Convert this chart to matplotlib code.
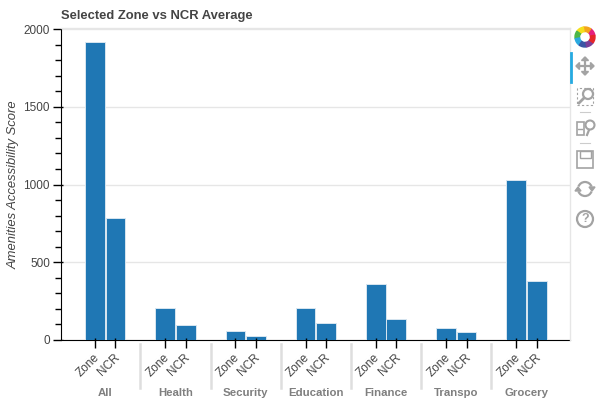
import matplotlib
matplotlib.use("Agg")
import matplotlib.pyplot as plt
import numpy as np
from matplotlib.lines import Line2D
from matplotlib.patches import Arc, Circle, Polygon, Rectangle, Wedge
from matplotlib.transforms import ScaledTranslation

plt.rcParams["font.family"] = ["Liberation Sans", "DejaVu Sans"]

categories = ["All", "Health", "Security", "Education", "Finance", "Transpo", "Grocery"]
series_names = ["Zone", "NCR"]
zone_values = [1915, 205, 55, 208, 358, 78, 1030]
ncr_values = [785, 95, 28, 110, 135, 50, 380]
y_ticks = [0, 500, 1000, 1500, 2000]
logo_colors = ["#e5207e", "#f4a41c", "#f4e01c", "#4cb648", "#2aa9e0", "#3a55a4", "#7b3f98", "#e5262a"]

W, H = 600, 400
BLUE = "#1f77b4"
OFFSET = 0.146
BAR_W = 0.28


def px(x, y):
    # pixel position (top left origin) to figure fraction
    return x / W, 1 - y / H


fig = plt.figure(figsize=(6, 4), dpi=100)
ax = fig.add_axes([61 / W, 1 - 340 / H, (570 - 61) / W, 311 / H])

groups = np.arange(len(categories))
ax.bar(groups - OFFSET, zone_values, BAR_W, color=BLUE, edgecolor="#d8e6f0", linewidth=0.7, zorder=3)
ax.bar(groups + OFFSET, ncr_values, BAR_W, color=BLUE, edgecolor="#d8e6f0", linewidth=0.7, zorder=3)

ax.set_xlim(-0.63, 6.62)
ax.set_ylim(0, 2000)
ax.set_yticks(y_ticks)
ax.set_yticks(np.arange(0, 2001, 100), minor=True)
ax.yaxis.grid(True, color="#e6e6e6", linewidth=1, zorder=0)
ax.tick_params(axis="y", which="major", length=6, width=1, labelsize=8.5, labelcolor="#444444", pad=2)
ax.tick_params(axis="y", which="minor", length=4, width=1)

xpos = np.concatenate([groups - OFFSET, groups + OFFSET])
xlabels = [series_names[0]] * len(groups) + [series_names[1]] * len(groups)
ax.set_xticks(xpos)
ax.set_xticklabels(xlabels, rotation=45, ha="right", rotation_mode="anchor", fontsize=8.5, color="#444444")
ax.tick_params(axis="x", length=6, width=1, pad=2)
shift = ScaledTranslation(-2 / 100, 0, fig.dpi_scale_trans)
for lab in ax.get_xticklabels():
    lab.set_transform(lab.get_transform() + shift)

# bokeh ticks also reach a little inside the frame
ax.vlines(xpos, 0, 2 / 311, transform=ax.get_xaxis_transform(), color="black", linewidth=1, zorder=5)
ax.hlines(y_ticks[:-1], 0, 2 / 509, transform=ax.get_yaxis_transform(), color="black", linewidth=1, zorder=5)

ax.spines["top"].set_visible(False)
ax.spines["right"].set_visible(False)
ax.set_ylabel("Amenities Accessibility Score", fontsize=9.4, style="italic", color="#444444")
ax.yaxis.set_label_coords((20 - 61) / 509, 0.5)

fig.text(61 / W, 1 - 16 / H, "Selected Zone vs NCR Average", fontsize=9.4, fontweight="bold",
         color="#444444", va="center", ha="left")

# group names and separators below the axis
for i, name in enumerate(categories):
    fig.text(ax.transData.transform((i, 0))[0] / W, 1 - 392.5 / H, name, fontsize=8.2, fontweight="bold",
             color="#7f7f7f", ha="center", va="center")
    if i:
        sep_x = ax.transData.transform((i - 0.5, 0))[0] / W
        fig.add_artist(Line2D([sep_x, sep_x], [1 - 344 / H, 1 - 388 / H], color="#dedede", linewidth=1.8))

# toolbar
TOOL = "#a3a3a3"
inch = fig.dpi_scale_trans


def tool_line(xs, ys, lw=1.3, color=TOOL, **kw):
    pts = [px(a, b) for a, b in zip(xs, ys)]
    fig.add_artist(Line2D([p[0] for p in pts], [p[1] for p in pts], color=color, linewidth=lw, **kw))


def at(x, y):
    return x / 100, (H - y) / 100


# outline of the plot frame
tool_line([61, 570], [28, 28], lw=1, color="#e6e6e6")
tool_line([570, 570], [28, 340], lw=1, color="#e6e6e6")
tool_line([571, 571], [53, 82], lw=2, color="#26aae1")

for i, col in enumerate(logo_colors):
    fig.add_artist(Wedge(at(585, 37), 0.10, 45 * i + 10, 45 * i + 55, width=0.045, color=col, transform=inch))

# pan
tool_line([577, 593], [66, 66], lw=1.6)
tool_line([585, 585], [58, 74], lw=1.6)
for pts in ([(576, 66), (579.5, 62.5), (579.5, 69.5)], [(594, 66), (590.5, 62.5), (590.5, 69.5)],
            [(585, 57), (581.5, 60.5), (588.5, 60.5)], [(585, 75), (581.5, 71.5), (588.5, 71.5)]):
    fig.add_artist(Polygon([px(*p) for p in pts], closed=True, color=TOOL, transform=fig.transFigure))

# box zoom
fig.add_artist(Rectangle(px(577, 105), 16 / W, 17 / H, fill=False, edgecolor=TOOL, linewidth=0.8,
                         linestyle=(0, (2, 2)), transform=fig.transFigure))
fig.add_artist(Circle(at(588, 94), 0.05, facecolor="white", edgecolor=TOOL, linewidth=1.6, transform=inch))
tool_line([584, 579], [98, 103], lw=2)

tool_line([580, 590], [112, 112], lw=0.8, color="#cccccc")

# wheel zoom
fig.add_artist(Rectangle(px(577, 135), 6.5 / W, 13 / H, fill=False, edgecolor=TOOL, linewidth=1.2,
                         transform=fig.transFigure))
tool_line([578, 582], [128.5, 128.5], lw=1)
fig.add_artist(Circle(at(590, 125), 0.045, fill=False, edgecolor=TOOL, linewidth=1.5, transform=inch))
tool_line([589, 587], [130, 135], lw=1.6)

tool_line([580, 590], [143, 143], lw=0.8, color="#cccccc")

# save
fig.add_artist(Rectangle(px(577, 168), 16 / W, 17 / H, fill=False, edgecolor=TOOL, linewidth=1.2,
                         transform=fig.transFigure))
fig.add_artist(Rectangle(px(580, 158), 11 / W, 7 / H, fill=False, edgecolor=TOOL, linewidth=1,
                         transform=fig.transFigure))

# reset
fig.add_artist(Arc(at(585, 189), 0.14, 0.14, theta1=20, theta2=160, color=TOOL, linewidth=1.6, transform=inch))
fig.add_artist(Arc(at(585, 189), 0.14, 0.14, theta1=200, theta2=340, color=TOOL, linewidth=1.6, transform=inch))
fig.add_artist(Polygon([px(*p) for p in [(589, 187), (595, 187), (592, 191)]], closed=True, color=TOOL,
                       transform=fig.transFigure))
fig.add_artist(Polygon([px(*p) for p in [(575, 191), (581, 191), (578, 187)]], closed=True, color=TOOL,
                       transform=fig.transFigure))

# help
fig.add_artist(Circle(at(585, 219), 0.08, fill=False, edgecolor=TOOL, linewidth=1.6, transform=inch))
fig.text(585 / W, 1 - 219 / H, "?", fontsize=9, fontweight="bold", color=TOOL, ha="center", va="center")

fig.savefig("out.png", dpi=100)
